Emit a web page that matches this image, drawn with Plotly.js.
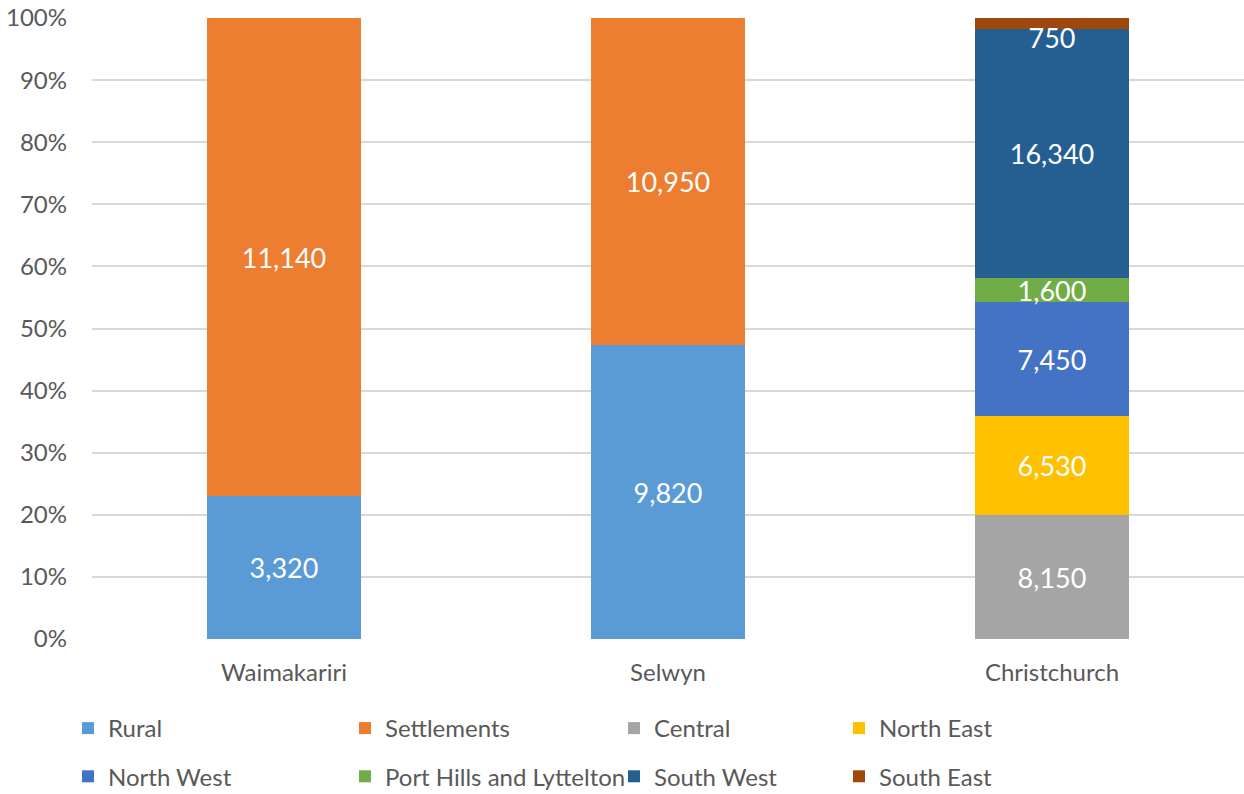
<!DOCTYPE html>
<html>
<head>
<meta charset="utf-8">
<script src="https://cdn.plot.ly/plotly-3.0.1.min.js"></script>
<style>html,body{margin:0;padding:0;background:#fff;}#chart{width:1244px;height:794px;}</style>
</head>
<body>
<div id="chart"></div>
<script>
const categories = ["Waimakariri", "Selwyn", "Christchurch"];
const seriesNames = ["Rural", "Settlements", "Central", "North East", "North West", "Port Hills and Lyttelton", "South West", "South East"];
const rural = [3320, 9820, null];
const settlements = [11140, 10950, null];
const central = [null, null, 8150];
const northEast = [null, null, 6530];
const northWest = [null, null, 7450];
const portHills = [null, null, 1600];
const southWest = [null, null, 16340];
const southEast = [null, null, 750];
const seriesValues = [rural, settlements, central, northEast, northWest, portHills, southWest, southEast];
const colors = ["#5B9BD5", "#ED7D31", "#A5A5A5", "#FFC000", "#4472C4", "#70AD47", "#255E91", "#9E480E"];
const legendIds = ["legend", "legend2", "legend3", "legend4", "legend", "legend2", "legend3", "legend4"];

const FONT = "Lato, 'Open Sans', sans-serif";
const traces = seriesNames.map((name, i) => ({
  type: "bar",
  name: name,
  x: categories,
  y: seriesValues[i],
  marker: {color: colors[i], line: {width: 0}},
  texttemplate: "%{y:,}",
  textposition: "inside",
  insidetextanchor: i === seriesNames.length - 1 ? "end" : "middle",
  constraintext: "none",
  cliponaxis: false,
  textangle: 0,
  textfont: {color: "#ffffff", size: 27, family: FONT},
  hoverinfo: "x+y+name",
  legend: legendIds[i],
  legendgroup: "g" + i
}));

function leg(xpx) {
  return {
    xref: "container", yref: "container",
    x: xpx / 1244, y: 1 - 706 / 794,
    xanchor: "left", yanchor: "top",
    orientation: "v",
    traceorder: "grouped",
    tracegroupgap: 14,
    font: {size: 24, color: "#595959", family: FONT},
    bgcolor: "rgba(0,0,0,0)"
  };
}

const layout = {
  width: 1244, height: 794,
  margin: {l: 92, r: 0, t: 18, b: 155, autoexpand: false},
  paper_bgcolor: "#ffffff",
  plot_bgcolor: "#ffffff",
  barmode: "stack",
  barnorm: "percent",
  bargap: 0.6,
  font: {family: FONT, color: "#595959", size: 24},
  xaxis: {
    type: "category",
    showgrid: false,
    ticks: "",
    ticklabelstandoff: 17,
    tickangle: 0,
    tickfont: {size: 24, color: "#595959", family: FONT},
    showline: false,
    zeroline: false,
    automargin: false
  },
  yaxis: {
    range: [0, 100],
    dtick: 10,
    tick0: 0,
    ticksuffix: "%",
    showgrid: true,
    gridcolor: "#D9D9D9",
    gridwidth: 2,
    zeroline: false,
    showline: false,
    ticks: "",
    ticklabelstandoff: 24,
    tickfont: {size: 24, color: "#595959", family: FONT},
    fixedrange: true,
    automargin: false
  },
  legend: leg(68),
  legend2: leg(345),
  legend3: leg(614),
  legend4: leg(839),
  showlegend: true
};

Plotly.newPlot("chart", traces, layout, {displayModeBar: false, staticPlot: true});
</script>
</body>
</html>
